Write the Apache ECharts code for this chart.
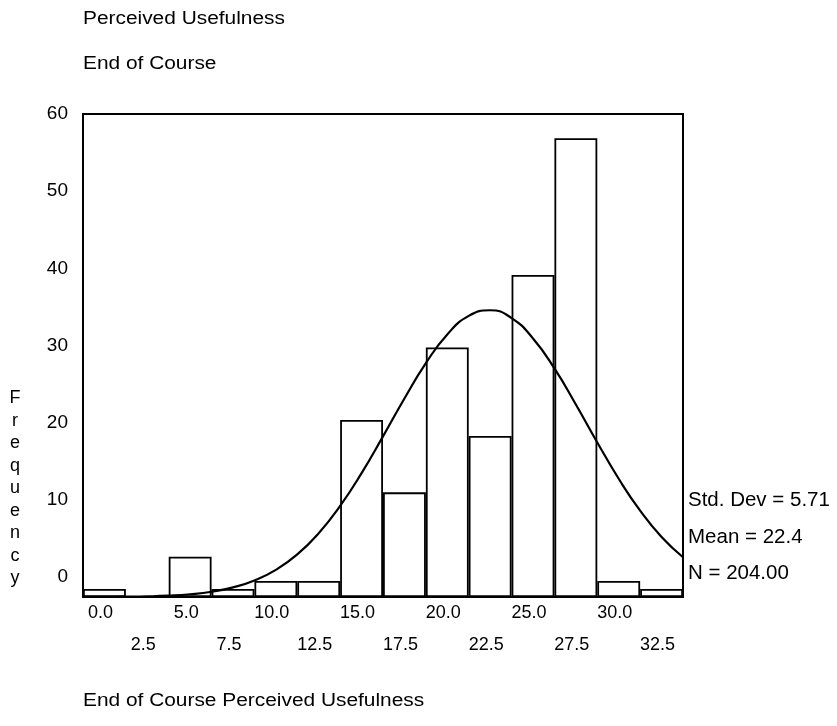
<!DOCTYPE html>
<html>
<head>
<meta charset="utf-8">
<script src="https://cdn.jsdelivr.net/npm/echarts@6/dist/echarts.min.js"></script>
<style>html,body{margin:0;padding:0;background:#fff}#c{width:837px;height:726px}</style>
</head>
<body>
<div id="c"></div>
<script>
// ---- data ----
const binLabels = ['0.0','2.5','5.0','7.5','10.0','12.5','15.0','17.5','20.0','22.5','25.0','27.5','30.0','32.5'];
const frequencies = [1, 0, 5, 1, 2, 2, 22, 13, 31, 20, 40, 57, 2, 1];
const yTickValues = [0, 10, 20, 30, 40, 50, 60];
// normal curve (x in score units, y in frequency)
const curveX = [-1.25, 0, 1.25, 2.5, 3.75, 5, 6.25, 7.5, 8.75, 10, 11.25, 12.5, 13.75, 15, 16.25, 17.5, 18.75, 20, 21.25, 22.5, 23.75, 25, 26.25, 27.5, 28.75, 30, 31.25, 32.5, 33.75];
const curveY = [0.01, 0.02, 0.04, 0.08, 0.17, 0.34, 0.65, 1.19, 2.05, 3.37, 5.29, 7.93, 11.31, 15.38, 19.95, 24.66, 29.05, 32.62, 34.92, 35.62, 34.65, 32.12, 28.39, 23.91, 19.2, 14.69, 10.72, 7.45, 4.94];
const titleLines = ['Perceived Usefulness', 'End of Course'];
const xTitle = 'End of Course Perceived Usefulness';
const yTitle = 'Frequency';
const statsLines = ['Std. Dev = 5.71', 'Mean = 22.4', 'N = 204.00'];

const FONT = '"Liberation Sans", Arial, Helvetica, sans-serif';
const chart = echarts.init(document.getElementById('c'), null, {renderer: 'canvas'});

const gridL = 83, gridT = 114, gridW = 600, gridH = 483;

const option = {
  backgroundColor: '#fff',
  animation: false,
  grid: {left: gridL, top: gridT, width: gridW, height: gridH, show: true, borderColor: '#000', borderWidth: 2, backgroundColor: 'transparent'},
  xAxis: [
    {
      type: 'category', data: binLabels, boundaryGap: true,
      axisLine: {show: false}, axisTick: {show: false}, splitLine: {show: false},
      axisLabel: {
        interval: 0, margin: 7, color: '#000', fontFamily: FONT, fontSize: 18,
        formatter: (v, i) => (i % 2 === 0 ? '{a|' + v + '}' : '{b|' + v + '}'),
        rich: {
          a: {fontFamily: FONT, fontSize: 18, color: '#000', padding: [0, 8, 0, 0]},
          b: {fontFamily: FONT, fontSize: 18, color: '#000', padding: [32, 8, 0, 0]}
        }
      }
    },
    {type: 'value', min: -1.25, max: 33.75, show: false}
  ],
  yAxis: [
    {
      type: 'value', min: -2.6, max: 60,
      axisLine: {show: false}, axisTick: {show: false}, splitLine: {show: false},
      axisLabel: {customValues: yTickValues, margin: 15, color: '#000', fontFamily: FONT, fontSize: 19}
    },
    {type: 'value', min: 0, max: 60, show: false}
  ],
  series: [
    {
      type: 'bar', xAxisIndex: 0, yAxisIndex: 1, data: frequencies,
      barCategoryGap: '0%',
      itemStyle: {color: '#fff', borderColor: '#000', borderWidth: 1.8},
      silent: true
    },
    {
      type: 'line', xAxisIndex: 1, yAxisIndex: 1,
      data: curveX.map((x, i) => [x, curveY[i]]),
      smooth: true, symbol: 'none', z: 5,
      lineStyle: {color: '#000', width: 2.2}, silent: true
    }
  ],
  graphic: [
    {type: 'text', x: 83, y: 19, scaleX: 1.16, style: {text: titleLines[0], font: '18px ' + FONT, fill: '#000', textVerticalAlign: 'middle'}},
    {type: 'text', x: 83, y: 64, scaleX: 1.16, style: {text: titleLines[1], font: '18px ' + FONT, fill: '#000', textVerticalAlign: 'middle'}},
    {type: 'text', x: 83, y: 701, scaleX: 1.16, style: {text: xTitle, font: '18px ' + FONT, fill: '#000', textVerticalAlign: 'middle'}},
    {type: 'text', x: 15, y: 387, style: {text: yTitle.split('').join('\n'), font: '18px ' + FONT, fill: '#000', textAlign: 'center', textVerticalAlign: 'top', lineHeight: 22.5}},
    {type: 'text', x: 688, y: 500, style: {text: statsLines[0], font: '20.5px ' + FONT, fill: '#000', textVerticalAlign: 'middle'}},
    {type: 'text', x: 688, y: 537, style: {text: statsLines[1], font: '20.5px ' + FONT, fill: '#000', textVerticalAlign: 'middle'}},
    {type: 'text', x: 688, y: 573, style: {text: statsLines[2], font: '20.5px ' + FONT, fill: '#000', textVerticalAlign: 'middle'}}
  ]
};
chart.setOption(option);
</script>
</body>
</html>
